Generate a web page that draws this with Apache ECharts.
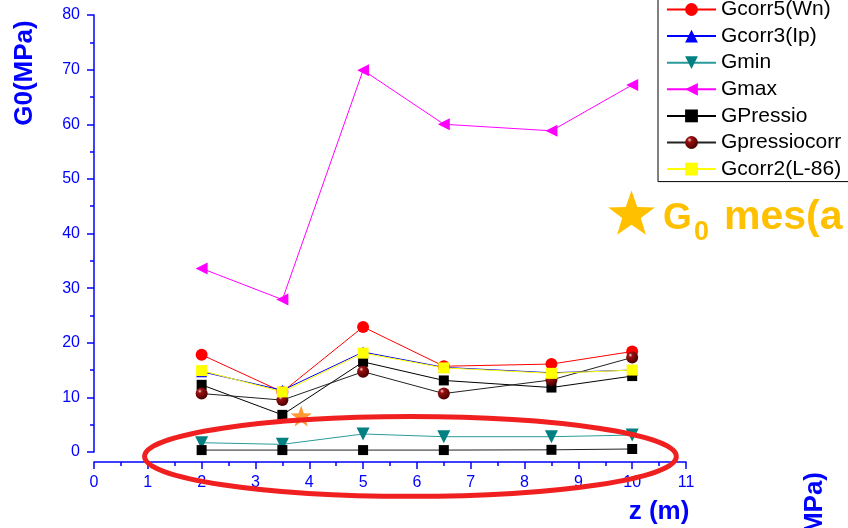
<!DOCTYPE html>
<html>
<head>
<meta charset="utf-8">
<script src="https://cdn.jsdelivr.net/npm/echarts@6/dist/echarts.min.js"></script>
<style>
html,body{margin:0;padding:0;background:#fff;}
#chart{width:848px;height:528px;}
</style>
</head>
<body>
<div id="chart"></div>
<script>
// ---- data ----
const zValues      = [2, 3.5, 5, 6.5, 8.5, 10];
const gcorr5       = [17.8, 11.0, 22.9, 15.7, 16.1, 18.4];
const gcorr3       = [14.7, 11.3, 18.3, 15.5, 14.5, 15.0];
const gmin         = [1.7, 1.4, 3.3, 2.8, 2.8, 3.1];
const gmax         = [33.6, 27.9, 69.9, 60.0, 58.8, 67.2];
const gpressio     = [12.3, 6.8, 16.5, 13.1, 11.8, 13.9];
const gpressioLow  = [0.35, 0.35, 0.35, 0.35, 0.4, 0.55];
const gpressiocorr = [10.7, 9.5, 14.7, 10.7, 13.2, 17.3];
const gcorr2       = [14.9, 11.0, 18.1, 15.4, 14.4, 15.0];
const g0Measured   = [[3.85, 6.6]];
const xTicks = [0, 11, 1];
const yTicks = [0, 80, 10];
const ellipseData = {cz: 5.88, cg: -0.82, rz: 4.94, rg: 7.3}; // annotation in data units

const BLUE = '#0000ff';
const FONT = '"Liberation Sans", Arial, sans-serif';

function pair(ys){ return zValues.map((z,i)=>[z, ys[i]]); }
function starPath(){
  let d = '';
  for (let i = 0; i < 10; i++) {
    const r = i % 2 === 0 ? 50 : 20;
    const a = -Math.PI/2 + i * Math.PI/5;
    d += (i===0?'M':'L') + (50 + r*Math.cos(a)).toFixed(2) + ' ' + (50 + r*Math.sin(a)).toFixed(2) + ' ';
  }
  return d + 'Z';
}
function starPoints(cx, cy, R){
  const pts = [];
  for (let i = 0; i < 10; i++) {
    const r = i % 2 === 0 ? R : R*0.4;
    const a = -Math.PI/2 + i * Math.PI/5;
    pts.push([cx + r*Math.cos(a), cy + r*Math.sin(a)]);
  }
  return pts;
}

const chart = echarts.init(document.getElementById('chart'), null, {renderer:'canvas'});
const ball = new echarts.graphic.RadialGradient(0.35, 0.3, 0.7, [
  {offset:0, color:'#f0d0d0'}, {offset:0.25, color:'#9a1010'}, {offset:1, color:'#4a0000'}
]);

function lineSeries(name, data, color, lineColor, symbol, size, extra){
  return Object.assign({
    name, type:'line', data: pair(data), symbol, symbolSize:size,
    itemStyle:{color, opacity:1}, lineStyle:{color: lineColor, width:1},
    emphasis:{disabled:true}, animation:false
  }, extra||{});
}

const option = {
  animation:false,
  grid:{left:94, right:162, top:15, bottom:76, containLabel:false},
  legend:{
    orient:'vertical', left:658, top:-6,
    data:['Gcorr5(Wn)','Gcorr3(Ip)','Gmin','Gmax','GPressio','Gpressiocorr','Gcorr2(L-86)'],
    itemWidth:49, itemHeight:16, itemGap:5.6,
    padding:[5,20,2,8],
    borderColor:'#000', borderWidth:1, backgroundColor:'#fff',
    textStyle:{color:'#000', fontSize:21, fontFamily:FONT},
    selectedMode:false
  },
  xAxis:{
    type:'value', min:xTicks[0], max:xTicks[1], interval:xTicks[2], offset:10,
    axisLine:{show:true, onZero:false, lineStyle:{color:BLUE, width:1.5}},
    axisTick:{show:true, inside:false, length:7, lineStyle:{color:BLUE, width:1.5}},
    minorTick:{show:true, splitNumber:2, length:4, lineStyle:{color:BLUE, width:1.5}},
    axisLabel:{color:BLUE, fontSize:16, fontFamily:FONT, margin:13},
    splitLine:{show:false}
  },
  yAxis:{
    type:'value', min:yTicks[0], max:yTicks[1], interval:yTicks[2],
    axisLine:{show:true, onZero:false, lineStyle:{color:BLUE, width:1.5}},
    axisTick:{show:true, inside:false, length:7, lineStyle:{color:BLUE, width:1.5}},
    minorTick:{show:true, splitNumber:2, length:4, lineStyle:{color:BLUE, width:1.5}},
    axisLabel:{color:BLUE, fontSize:16, fontFamily:FONT, margin:14},
    splitLine:{show:false}
  },
  series:[
    lineSeries('Gcorr5(Wn)', gcorr5, '#ff0000', '#ff0000', 'circle', 12),
    lineSeries('Gcorr3(Ip)', gcorr3, '#0000ff', '#0000ff', 'triangle', 11),
    lineSeries('Gmin', gmin, '#008080', '#2a9a9a', 'triangle', 13, {symbolRotate:180}),
    lineSeries('Gmax', gmax, '#ff00ff', '#ff00ff', 'triangle', 12, {symbolRotate:90}),
    lineSeries('GPressio', gpressio, '#000000', '#000000', 'rect', 10),
    lineSeries('GPressio ', gpressioLow, '#000000', '#222222', 'rect', 10),
    lineSeries('Gpressiocorr', gpressiocorr, ball, '#222222', 'circle', 12),
    lineSeries('Gcorr2(L-86)', gcorr2, '#ffff00', '#ffff00', 'rect', 11),
    {
      name:'G0 mes', type:'scatter', data:g0Measured,
      symbol:'path://' + starPath(), symbolSize:21,
      itemStyle:{color:'#ff8000'}, emphasis:{disabled:true}, z:3
    }
  ]
};
chart.setOption(option);

// annotation ellipse defined in data units, converted to pixels
const c = chart.convertToPixel({gridIndex:0}, [ellipseData.cz, ellipseData.cg]);
const e = chart.convertToPixel({gridIndex:0}, [ellipseData.cz + ellipseData.rz, ellipseData.cg + ellipseData.rg]);

chart.setOption({
  graphic:[
    {type:'text', x:25, y:73, rotation:Math.PI/2,
     style:{text:'G0(MPa)', fill:BLUE, font:'bold 26px ' + FONT, align:'center', verticalAlign:'middle'}},
    {type:'text', x:659, y:512,
     style:{text:'z (m)', fill:BLUE, font:'bold 26px ' + FONT, align:'center', verticalAlign:'middle'}},
    {type:'text', x:815, y:472, rotation:Math.PI/2,
     style:{text:'G0(MPa)', fill:BLUE, font:'bold 26px ' + FONT, align:'right', verticalAlign:'middle'}},
    {type:'ellipse', z:100,
     shape:{cx:c[0], cy:c[1], rx:Math.abs(e[0]-c[0]), ry:Math.abs(c[1]-e[1])},
     style:{fill:'none', stroke:'#f02020', lineWidth:5}},
    {type:'polygon', z:100, shape:{points:starPoints(631.5, 215, 24.5)}, style:{fill:'#ffc000'}},
    {type:'text', z:100, x:663, y:219,
     style:{text:'G', fill:'#ffc000', font:'bold 37px ' + FONT, align:'left', verticalAlign:'middle'}},
    {type:'text', z:100, x:694, y:233,
     style:{text:'0', fill:'#ffc000', font:'bold 27px ' + FONT, align:'left', verticalAlign:'middle'}},
    {type:'text', z:100, x:724, y:218,
     style:{text:'mes(a', fill:'#ffc000', font:'bold 41px ' + FONT, align:'left', verticalAlign:'middle'}}
  ]
});
</script>
</body>
</html>
